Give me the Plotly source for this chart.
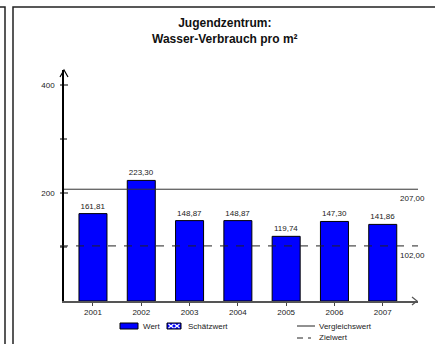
import plotly.graph_objects as go

W, H = 435, 344

years = ["2001", "2002", "2003", "2004", "2005", "2006", "2007"]
values = [161.81, 223.30, 148.87, 148.87, 119.74, 147.30, 141.86]
vergleichswert = 207.00
zielwert = 102.00
major_ticks = [200, 400]
minor_ticks = [100, 300]

FONT = "Arial, Liberation Sans, sans-serif"


def px_x(p):
    return p / W


def px_y(p):
    return 1 - p / H


def de(v):
    return f"{v:.2f}".replace(".", ",")


x0, x1 = 64, 418
y0, y1 = 301, 70

fig = go.Figure(
    data=[
        go.Bar(
            x=list(range(len(years))),
            y=values,
            width=0.58,
            marker=dict(color="#0000FF", line=dict(color="black", width=1)),
            text=[de(v) for v in values],
            textposition="outside",
            textfont=dict(size=8, color="#222", family=FONT),
            cliponaxis=False,
            showlegend=False,
        )
    ]
)

fig.update_layout(
    width=W,
    height=H,
    margin=dict(l=0, r=0, t=0, b=0),
    paper_bgcolor="white",
    plot_bgcolor="white",
    font=dict(family=FONT, size=8, color="#222"),
    showlegend=False,
)
fig.update_xaxes(
    domain=[px_x(x0), px_x(x1)],
    range=[-0.6, 6.73],
    tickvals=list(range(len(years))),
    ticktext=years,
    ticks="outside",
    ticklen=3,
    tickcolor="#444",
    showline=True,
    linecolor="#555",
    linewidth=1.5,
    showgrid=False,
    zeroline=False,
    tickfont=dict(size=8, family=FONT, color="#222"),
)
fig.update_yaxes(
    domain=[px_y(y0), px_y(y1)],
    range=[0, (y0 - y1) / 0.54],
    tickvals=major_ticks,
    ticktext=[str(t) for t in major_ticks],
    ticks="",
    ticklabelstandoff=6,
    showline=True,
    linecolor="black",
    linewidth=1.5,
    showgrid=False,
    zeroline=False,
    tickfont=dict(size=8, family=FONT, color="#222"),
)

shapes = []
# frame lines
shapes.append(dict(type="path", xref="paper", yref="paper",
                   path=f"M 0,{px_y(7)} L {px_x(5)},{px_y(7)} L {px_x(5)},{px_y(H)}",
                   line=dict(color="#222", width=1.5)))
shapes.append(dict(type="path", xref="paper", yref="paper",
                   path=f"M {px_x(13)},{px_y(H)} L {px_x(13)},{px_y(7)} L {px_x(W)},{px_y(7)}",
                   line=dict(color="#222", width=1.5)))
# reference lines
shapes.append(dict(type="line", xref="paper", yref="y", x0=px_x(x0), x1=px_x(x1),
                   y0=vergleichswert, y1=vergleichswert, line=dict(color="#333", width=1)))
shapes.append(dict(type="line", xref="paper", yref="y", x0=px_x(x0 - 4), x1=px_x(x1),
                   y0=zielwert, y1=zielwert, line=dict(color="#222", width=1, dash="8px,8px")))
# y ticks
for t in major_ticks:
    shapes.append(dict(type="line", xref="paper", yref="y", x0=px_x(x0 - 4), x1=px_x(x0 + 4),
                       y0=t, y1=t, line=dict(color="black", width=1)))
for t in minor_ticks:
    shapes.append(dict(type="line", xref="paper", yref="y", x0=px_x(x0 - 4), x1=px_x(x0 + 3),
                       y0=t, y1=t, line=dict(color="black", width=1)))
# axis arrows
shapes.append(dict(type="path", xref="paper", yref="paper",
                   path=f"M {px_x(x0 - 4)},{px_y(y1 + 7)} L {px_x(x0)},{px_y(y1)} L {px_x(x0 + 4)},{px_y(y1 + 7)}",
                   line=dict(color="black", width=1.2)))
shapes.append(dict(type="path", xref="paper", yref="paper",
                   path=f"M {px_x(x1 - 6)},{px_y(y0 - 4)} L {px_x(x1 - 1)},{px_y(y0)} L {px_x(x1 - 6)},{px_y(y0 + 4)}",
                   line=dict(color="#555", width=1.2)))
# legend swatches
shapes.append(dict(type="rect", xref="paper", yref="paper",
                   x0=px_x(120), x1=px_x(138), y0=px_y(323), y1=px_y(329),
                   fillcolor="#0000FF", line=dict(color="black", width=1)))
shapes.append(dict(type="rect", xref="paper", yref="paper",
                   x0=px_x(167), x1=px_x(181), y0=px_y(323), y1=px_y(329),
                   fillcolor="#0000FF", line=dict(color="black", width=1)))
for cx in (171, 177):
    shapes.append(dict(type="path", xref="paper", yref="paper",
                       path=(f"M {px_x(cx - 2.5)},{px_y(324)} L {px_x(cx + 2.5)},{px_y(328)} "
                             f"M {px_x(cx - 2.5)},{px_y(328)} L {px_x(cx + 2.5)},{px_y(324)}"),
                       line=dict(color="white", width=1.2)))
shapes.append(dict(type="line", xref="paper", yref="paper",
                   x0=px_x(297), x1=px_x(315), y0=px_y(326), y1=px_y(326),
                   line=dict(color="#222", width=1)))
shapes.append(dict(type="line", xref="paper", yref="paper",
                   x0=px_x(297), x1=px_x(303), y0=px_y(338), y1=px_y(338),
                   line=dict(color="#222", width=1)))
shapes.append(dict(type="line", xref="paper", yref="paper",
                   x0=px_x(308), x1=px_x(311), y0=px_y(338), y1=px_y(338),
                   line=dict(color="#222", width=1)))
fig.update_layout(shapes=shapes)

ann = []
ann.append(dict(xref="paper", yref="paper", x=px_x(225), y=px_y(31),
                text="<b>Jugendzentrum:<br>Wasser-Verbrauch pro m²</b>",
                showarrow=False, font=dict(size=12, family=FONT, color="#111"),
                xanchor="center", yanchor="middle"))
ann.append(dict(xref="paper", yref="y", x=px_x(427), y=vergleichswert, yshift=-9,
                text=de(vergleichswert), showarrow=False, xanchor="right", yanchor="middle",
                font=dict(size=8, family=FONT, color="#222")))
ann.append(dict(xref="paper", yref="y", x=px_x(427), y=zielwert, yshift=-10,
                text=de(zielwert), showarrow=False, xanchor="right", yanchor="middle",
                font=dict(size=8, family=FONT, color="#222")))
for x, y, label in [(141, 326, "Wert"), (186, 326, "Schätzwert"),
                    (317, 326, "Vergleichswert"), (317, 337, "Zielwert")]:
    ann.append(dict(xref="paper", yref="paper", x=px_x(x), y=px_y(y), text=label,
                    showarrow=False, xanchor="left", yanchor="middle",
                    font=dict(size=8, family=FONT, color="#222")))
fig.update_layout(annotations=ann)

# the page keeps the browser's default body margin otherwise
fig.write_html(
    "out.html",
    config={"displayModeBar": False},
    post_script=("document.body.style.margin='0';document.body.style.overflow='hidden';"
                 "document.documentElement.style.overflow='hidden';"),
)
